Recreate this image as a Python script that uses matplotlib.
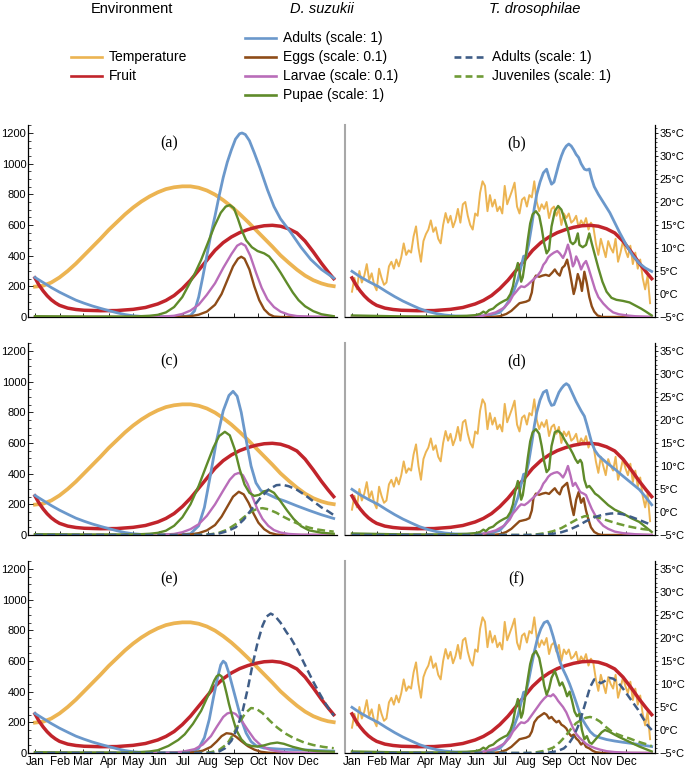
import numpy as np
import matplotlib.pyplot as plt
from matplotlib.lines import Line2D
from matplotlib.ticker import MultipleLocator

plt.rcParams['font.family'] = ['Liberation Sans', 'DejaVu Sans']

W, H = 685, 769

MONTHS = ['Jan', 'Feb', 'Mar', 'Apr', 'May', 'Jun', 'Jul', 'Aug', 'Sep', 'Oct', 'Nov', 'Dec']
MONTH_DAY = [0, 31, 59, 90, 120, 151, 181, 212, 243, 273, 304, 334]
POP_TICKS = [0, 200, 400, 600, 800, 1000, 1200]
TEMP_TICKS = [-5, 0, 5, 10, 15, 20, 25, 30, 35]

C_TEMP = '#ecb452'
C_FRUIT = '#c1242b'
C_ADULT = '#6b98cb'
C_EGG = '#8e4c18'
C_LARVA = '#b96db9'
C_PUPA = '#5f8b2a'
C_TADULT = '#3f5d87'
C_TJUV = '#6f9b36'

# seasonal temperature (deg C), smooth version used in the left column
temp_smooth = [(0, 1.6), (10, 1.8), (20, 2.5), (30, 3.6), (40, 5.0), (50, 6.6), (60, 8.4),
               (70, 10.2), (80, 12.0), (90, 13.9), (100, 15.6), (110, 17.3), (120, 18.8),
               (130, 20.1), (140, 21.2), (150, 22.1), (160, 22.8), (170, 23.2), (180, 23.4),
               (190, 23.4), (200, 23.1), (210, 22.5), (220, 21.6), (230, 20.4), (240, 19.0),
               (250, 17.4), (260, 15.7), (270, 13.9), (280, 12.1), (290, 10.3), (300, 8.4),
               (310, 6.8), (320, 5.3), (330, 4.0), (340, 3.0), (350, 2.3), (358, 1.9), (365, 1.7)]

# measured temperature (deg C), every 3 days, right column
temp_measured = [0.5, 3.5, 1.0, 5.0, 2.5, 4.0, 6.5, 3.0, 4.5, 2.0,
                 0.8, 5.5, 3.5, 2.0, 2.5, 6.0, 7.0, 5.5, 7.5, 6.0,
                 8.0, 11.0, 8.5, 9.5, 9.0, 12.5, 14.7, 10.0, 7.0, 11.5,
                 13.0, 14.0, 16.0, 13.5, 14.5, 12.0, 11.0, 15.0, 17.6, 15.5,
                 17.0, 14.5, 16.0, 18.5, 15.5, 19.5, 20.0, 17.0, 15.0, 14.0,
                 17.5, 17.0, 22.0, 24.5, 23.5, 18.0, 21.5, 19.0, 20.5, 18.0,
                 19.0, 17.5, 23.5, 19.5, 21.0, 22.5, 24.2, 19.0, 17.5, 20.5,
                 21.0, 19.0, 21.5, 21.0, 24.5, 20.0, 18.0, 19.5, 18.5, 20.0,
                 16.5, 18.5, 19.0, 17.0, 18.5, 15.0, 17.5, 16.5, 17.5, 15.5,
                 16.0, 17.0, 14.5, 16.0, 15.0, 16.5, 14.0, 15.5, 14.5, 11.0,
                 8.5, 12.0, 10.0, 8.0, 11.5, 10.0, 9.0, 12.0, 7.0, 9.0,
                 11.5, 9.5, 8.0, 10.5, 6.5, 9.0, 5.5, 7.5, 3.5, 1.0,
                 4.0, -2.0]

fruit = [(0, 255), (5, 208), (10, 170), (15, 138), (20, 112), (25, 92), (30, 76), (40, 58),
         (50, 49), (60, 44), (80, 41), (100, 42), (120, 50), (135, 62), (150, 85), (160, 108),
         (170, 140), (180, 185), (190, 240), (200, 305), (210, 370), (220, 435), (230, 485),
         (240, 522), (250, 550), (260, 570), (270, 585), (280, 595), (290, 598), (300, 592),
         (310, 575), (320, 548), (330, 495), (340, 425), (350, 350), (358, 295), (365, 250)]

# ---- left column (a), (c), (e)
ADULT_SPRING_LEFT = [(0, 258), (10, 225), (20, 192), (30, 162), (41, 133), (50, 110), (60, 90),
                     (70, 72), (81, 55), (90, 42), (100, 28), (110, 16), (120, 8), (130, 4),
                     (150, 2), (170, 2), (185, 5)]

adults_a = ADULT_SPRING_LEFT + [(190, 10), (195, 40), (200, 130), (205, 260), (210, 400), (215, 540),
                                (220, 660), (225, 790), (230, 910), (235, 1010), (240, 1090),
                                (245, 1160), (250, 1195), (253, 1200), (257, 1190), (262, 1150),
                                (268, 1070), (275, 970), (284, 830), (292, 720), (300, 640),
                                (313, 548), (325, 455), (337, 375), (350, 310), (365, 254)]
pupae_a = [(0, 5), (60, 3), (120, 3), (140, 8), (150, 14), (160, 30), (170, 65), (180, 130),
           (187, 200), (195, 280), (203, 372), (211, 480), (219, 589), (227, 680), (233, 720),
           (238, 730), (243, 710), (248, 640), (253, 560), (258, 500), (265, 455), (272, 430),
           (280, 415), (286, 395), (292, 355), (300, 290), (308, 220), (315, 160), (322, 110),
           (330, 70), (340, 38), (350, 18), (365, 5)]
larvae_a = [(0, 0), (150, 0), (170, 8), (180, 20), (190, 42), (200, 80), (210, 145), (220, 220),
            (230, 320), (240, 410), (247, 465), (252, 480), (257, 465), (263, 400), (270, 290),
            (277, 190), (284, 115), (292, 65), (300, 35), (310, 15), (320, 6), (340, 2), (365, 0)]
eggs_a = [(0, 0), (170, 0), (190, 5), (200, 15), (210, 35), (220, 80), (228, 150), (235, 240),
          (242, 330), (248, 380), (252, 393), (256, 380), (262, 310), (268, 200), (274, 110),
          (280, 50), (286, 18), (292, 3), (300, 0), (365, 0)]

adults_c = ADULT_SPRING_LEFT + [(190, 8), (200, 60), (207, 180), (214, 380), (222, 620), (230, 810),
                                (237, 910), (242, 937), (247, 905), (252, 800), (258, 620),
                                (264, 450), (270, 340), (276, 290), (285, 265), (295, 240),
                                (305, 222), (320, 190), (335, 160), (350, 132), (365, 108)]
pupae_c = [(0, 5), (60, 3), (120, 3), (140, 8), (150, 14), (160, 28), (170, 60), (180, 115),
           (190, 200), (200, 320), (210, 460), (218, 570), (225, 645), (232, 673), (238, 650),
           (244, 560), (250, 430), (256, 330), (262, 275), (268, 255), (274, 262), (280, 285),
           (286, 293), (292, 275), (300, 220), (308, 160), (316, 105), (325, 58), (335, 30),
           (350, 15), (365, 8)]
larvae_c = [(0, 0), (150, 0), (170, 7), (180, 18), (190, 38), (200, 70), (210, 125), (220, 200),
            (230, 290), (238, 360), (244, 395), (249, 405), (254, 390), (260, 330), (266, 245),
            (272, 165), (278, 105), (285, 60), (292, 32), (300, 16), (310, 7), (325, 2), (365, 0)]
eggs_c = [(0, 0), (170, 0), (190, 4), (200, 12), (210, 30), (220, 65), (228, 120), (235, 185),
          (242, 250), (249, 282), (255, 265), (261, 210), (267, 140), (273, 80), (280, 38),
          (287, 14), (295, 3), (302, 0), (365, 0)]
tadults_c = [(0, 0), (200, 0), (215, 3), (225, 10), (235, 25), (245, 50), (255, 100), (265, 170),
             (275, 240), (285, 295), (295, 325), (302, 328), (310, 318), (320, 295), (330, 260),
             (340, 220), (350, 180), (358, 155), (365, 130)]
tjuv_c = [(0, 0), (200, 0), (215, 5), (225, 15), (235, 35), (245, 70), (255, 115), (265, 155),
          (272, 172), (278, 175), (285, 168), (295, 145), (305, 115), (315, 88), (325, 65),
          (335, 48), (345, 36), (355, 28), (365, 22)]

adults_e = ADULT_SPRING_LEFT + [(190, 5), (200, 30), (207, 100), (213, 220), (218, 360), (223, 490),
                                (227, 575), (230, 599), (233, 585), (237, 520), (242, 420),
                                (247, 320), (252, 220), (258, 130), (264, 75), (270, 48),
                                (280, 32), (300, 25), (330, 20), (365, 12)]
pupae_e = [(0, 5), (60, 3), (120, 3), (140, 10), (150, 18), (163, 46), (175, 85), (183, 122),
           (193, 190), (203, 275), (212, 380), (219, 472), (222, 500), (225, 511), (228, 500),
           (231, 455), (234, 390), (237, 320), (241, 240), (246, 150), (252, 90), (258, 57),
           (265, 45), (272, 42), (280, 50), (288, 62), (296, 68), (304, 60), (315, 40), (330, 20),
           (345, 12), (365, 8)]
larvae_e = [(0, 0), (160, 0), (180, 8), (195, 25), (205, 55), (215, 110), (222, 170), (230, 235),
            (235, 258), (240, 265), (245, 255), (252, 215), (260, 150), (268, 90), (276, 50),
            (285, 25), (295, 12), (310, 4), (330, 1), (365, 0)]
eggs_e = [(0, 0), (180, 0), (195, 5), (205, 15), (215, 40), (222, 75), (228, 110), (234, 129),
          (240, 125), (246, 105), (252, 78), (260, 45), (268, 22), (276, 8), (285, 2), (295, 0),
          (365, 0)]
tadults_e = [(0, 0), (220, 0), (225, 10), (232, 30), (240, 80), (247, 160), (254, 280), (260, 420),
             (266, 580), (272, 720), (278, 830), (283, 890), (288, 909), (293, 895), (300, 850),
             (307, 790), (313, 745), (320, 680), (327, 605), (333, 540), (340, 465), (347, 395),
             (354, 330), (360, 280), (365, 245)]
tjuv_e = [(0, 0), (200, 0), (215, 5), (225, 20), (235, 60), (243, 130), (250, 200), (257, 260),
          (264, 293), (270, 290), (278, 260), (287, 210), (296, 166), (305, 130), (315, 100),
          (329, 68), (340, 52), (352, 40), (365, 31)]

# ---- right column (b), (d), (f)
ADULT_SPRING_RIGHT = [(0, 298), (10, 262), (20, 232), (32, 199), (42, 165), (52, 133), (62, 104),
                      (72, 79), (82, 55), (93, 35), (103, 22), (113, 13), (125, 7), (140, 4),
                      (155, 5), (165, 10), (172, 18), (180, 30), (186, 65), (192, 112), (197, 170),
                      (202, 243), (206, 330), (209, 396), (212, 400), (215, 470)]
PUPA_SPRING_RIGHT = [(0, 10), (30, 7), (60, 4), (90, 3), (120, 4), (140, 8), (150, 12), (156, 20),
                     (160, 35), (163, 25), (167, 45), (172, 55), (176, 75), (180, 90), (185, 105),
                     (189, 115), (193, 150), (196, 200), (199, 290), (202, 352), (204, 300),
                     (206, 230), (208, 260), (211, 370)]
LARVA_SPRING_RIGHT = [(0, 0), (140, 0), (155, 3), (165, 15), (175, 30), (185, 60), (192, 100),
                      (196, 140), (200, 165), (203, 185), (206, 200), (210, 195), (214, 210)]
EGG_SPRING_RIGHT = [(0, 0), (170, 0), (180, 5), (188, 20), (194, 40), (198, 60), (204, 90),
                    (208, 95), (212, 100), (216, 110)]

adults_b = ADULT_SPRING_RIGHT + [(219, 600), (222, 710), (225, 800), (229, 880), (233, 940),
                                 (237, 964), (240, 910), (243, 866), (246, 880), (249, 940),
                                 (252, 1000), (255, 1050), (258, 1090), (261, 1115), (264, 1128),
                                 (267, 1115), (270, 1090), (273, 1060), (276, 1040), (279, 1000),
                                 (283, 964), (286, 958), (289, 965), (292, 900), (295, 850),
                                 (300, 800), (307, 740), (314, 680), (320, 615), (326, 550),
                                 (334, 470), (342, 400), (350, 350), (357, 320), (365, 297)]
pupae_b = PUPA_SPRING_RIGHT + [(214, 500), (217, 610), (220, 670), (224, 690), (228, 660), (231, 580),
                               (234, 480), (237, 415), (240, 440), (243, 590), (247, 690), (251, 724),
                               (255, 700), (259, 636), (263, 565), (266, 490), (269, 475), (272, 490),
                               (275, 545), (277, 470), (281, 455), (285, 470), (289, 545), (292, 480),
                               (296, 400), (300, 320), (305, 230), (310, 165), (316, 125), (322, 112),
                               (330, 105), (338, 95), (345, 75), (352, 55), (358, 35), (365, 10)]
larvae_b = LARVA_SPRING_RIGHT + [(218, 230), (222, 250), (226, 270), (230, 300), (233, 340), (236, 360),
                                 (239, 390), (242, 405), (246, 420), (250, 430), (253, 415), (257, 385),
                                 (260, 420), (263, 472), (266, 410), (269, 330), (271, 350), (273, 395),
                                 (276, 360), (279, 310), (282, 345), (285, 365), (288, 320), (292, 250),
                                 (296, 180), (300, 130), (306, 88), (312, 55), (318, 30), (325, 18),
                                 (335, 10), (345, 5), (365, 0)]
eggs_b = EGG_SPRING_RIGHT + [(219, 160), (221, 240), (224, 270), (228, 262), (232, 270), (236, 275),
                             (240, 268), (244, 290), (247, 310), (250, 285), (253, 270), (256, 320),
                             (259, 335), (262, 374), (265, 300), (267, 240), (270, 150), (272, 190),
                             (275, 280), (278, 230), (280, 170), (283, 295), (286, 220), (289, 130),
                             (292, 70), (295, 35), (299, 10), (305, 0), (365, 0)]

adults_d = ADULT_SPRING_RIGHT + [(219, 600), (222, 710), (225, 800), (229, 880), (233, 930),
                                 (237, 943), (240, 880), (243, 845), (246, 850), (249, 890),
                                 (252, 930), (255, 955), (258, 975), (261, 987), (264, 975),
                                 (267, 940), (270, 905), (273, 870), (276, 840), (279, 810),
                                 (283, 775), (286, 720), (289, 660), (292, 600), (296, 550),
                                 (300, 520), (305, 495), (310, 472), (320, 430), (330, 384),
                                 (340, 340), (350, 296), (358, 245), (365, 197)]
pupae_d = PUPA_SPRING_RIGHT + [(214, 500), (217, 610), (220, 670), (224, 690), (228, 660), (231, 580),
                               (234, 480), (237, 410), (240, 430), (243, 580), (247, 670), (251, 680),
                               (255, 660), (259, 620), (263, 585), (266, 560), (269, 530), (272, 495),
                               (275, 470), (278, 490), (280, 470), (283, 360), (286, 310), (289, 320),
                               (292, 300), (296, 270), (300, 255), (306, 225), (312, 195), (320, 165),
                               (330, 140), (340, 110), (350, 85), (358, 50), (365, 20)]
larvae_d = LARVA_SPRING_RIGHT + [(218, 230), (222, 250), (226, 270), (230, 300), (233, 335), (236, 355),
                                 (239, 380), (242, 395), (246, 405), (250, 410), (253, 400), (257, 375),
                                 (260, 405), (263, 450), (266, 390), (269, 320), (272, 340), (275, 310),
                                 (278, 280), (282, 270), (285, 260), (288, 220), (292, 170), (296, 130),
                                 (300, 95), (306, 60), (312, 40), (320, 22), (330, 12), (345, 5),
                                 (365, 0)]
eggs_d = EGG_SPRING_RIGHT + [(219, 160), (221, 240), (224, 270), (228, 262), (232, 270), (236, 275),
                             (240, 268), (244, 290), (247, 305), (250, 280), (253, 265), (256, 310),
                             (259, 325), (262, 340), (265, 260), (267, 200), (270, 130), (273, 230),
                             (276, 280), (279, 210), (282, 240), (285, 160), (288, 100), (291, 50),
                             (295, 20), (300, 5), (305, 0), (365, 0)]
tadults_d = [(0, 0), (220, 0), (235, 3), (245, 8), (255, 18), (265, 35), (275, 60), (285, 90),
             (295, 115), (305, 132), (315, 140), (322, 142), (330, 135), (340, 118), (350, 98),
             (358, 80), (365, 66)]
tjuv_d = [(0, 0), (215, 0), (225, 4), (235, 12), (245, 25), (255, 45), (265, 75), (275, 105),
          (283, 122), (290, 125), (297, 118), (305, 105), (315, 88), (325, 72), (335, 58),
          (345, 47), (355, 38), (365, 32)]

adults_f = ADULT_SPRING_RIGHT + [(219, 580), (222, 660), (226, 750), (230, 810), (234, 850),
                                 (238, 860), (241, 830), (245, 760), (249, 680), (253, 600),
                                 (257, 545), (261, 500), (265, 450), (269, 392), (273, 330),
                                 (277, 265), (281, 215), (285, 180), (290, 140), (295, 115),
                                 (302, 100), (310, 88), (320, 78), (330, 70), (340, 63),
                                 (350, 55), (358, 48), (365, 42)]
pupae_f = PUPA_SPRING_RIGHT + [(214, 480), (217, 580), (220, 640), (224, 665), (228, 620), (231, 540),
                               (234, 440), (237, 380), (240, 420), (243, 490), (247, 535), (250, 490),
                               (253, 440), (256, 460), (259, 420), (262, 370), (265, 400), (268, 340),
                               (271, 270), (274, 240), (277, 255), (280, 150), (283, 90), (286, 110),
                               (289, 70), (292, 60), (296, 85), (300, 110), (304, 135), (308, 150),
                               (313, 140), (318, 125), (325, 105), (333, 85), (342, 62), (350, 42),
                               (358, 25), (365, 10)]
larvae_f = LARVA_SPRING_RIGHT + [(218, 240), (222, 270), (226, 300), (230, 330), (234, 355), (238, 375),
                                 (242, 370), (245, 383), (248, 365), (251, 340), (254, 320), (257, 300),
                                 (261, 265), (265, 215), (269, 165), (273, 125), (277, 100), (281, 80),
                                 (285, 60), (290, 45), (296, 32), (302, 22), (310, 12), (320, 6),
                                 (335, 2), (365, 0)]
eggs_f = EGG_SPRING_RIGHT + [(219, 140), (222, 200), (226, 230), (230, 245), (234, 260), (237, 250),
                             (240, 225), (243, 235), (246, 215), (249, 200), (252, 210), (255, 185),
                             (258, 175), (261, 160), (264, 130), (267, 110), (270, 120), (273, 95),
                             (276, 80), (279, 55), (282, 70), (285, 40), (289, 30), (293, 15),
                             (297, 5), (305, 0), (365, 0)]
tadults_f = [(0, 0), (230, 0), (240, 3), (250, 12), (258, 30), (264, 60), (270, 110), (275, 170),
             (280, 250), (285, 340), (290, 430), (295, 480), (299, 470), (303, 455), (308, 470),
             (313, 490), (318, 485), (324, 460), (330, 420), (336, 375), (342, 330), (348, 285),
             (354, 230), (360, 180), (365, 150)]
tjuv_f = [(0, 0), (215, 0), (225, 5), (235, 15), (245, 35), (253, 70), (260, 110), (267, 160),
          (273, 195), (279, 215), (285, 230), (290, 235), (295, 228), (302, 205), (308, 175),
          (315, 145), (322, 125), (330, 108), (338, 95), (345, 80), (352, 68), (358, 58), (365, 45)]


def c_to_pop(t):
    # temperature axis: -5 degC sits at 0, 1 degC = 30 population units
    return 30 * (np.asarray(t) + 5)


def pop_to_c(y):
    return np.asarray(y) / 30 - 5


def xy(series):
    arr = np.array(series, dtype=float)
    return arr[:, 0], arr[:, 1]


LW_POP = 1.7
DASH = (3.2, 1.7)


def draw_panel(ax, label, right, adults, eggs, larvae, pupae, tadults=None, tjuv=None, bottom=False):
    if right:
        td = np.arange(len(temp_measured)) * 3
        ax.plot(td, c_to_pop(temp_measured), color=C_TEMP, lw=1.4, zorder=1)
    else:
        d, t = xy(temp_smooth)
        ax.plot(d, c_to_pop(t), color=C_TEMP, lw=2.7, zorder=1)
    d, v = xy(fruit)
    ax.plot(d, v, color=C_FRUIT, lw=2.5, zorder=2)
    for s, c in [(adults, C_ADULT), (eggs, C_EGG), (larvae, C_LARVA), (pupae, C_PUPA)]:
        d, v = xy(s)
        lw = 2.0 if c == C_ADULT else LW_POP
        ax.plot(d, v, color=c, lw=lw, zorder=3)
    if tadults is not None:
        for s, c in [(tjuv, C_TJUV), (tadults, C_TADULT)]:
            d, v = xy(s)
            ax.plot(d, v, color=c, lw=1.8, ls=(0, DASH), zorder=4)

    ax.set_xlim(-8.5, 369)
    ax.set_ylim(0, 1252)
    ax.spines['top'].set_visible(False)
    ax.spines['right'].set_visible(False)
    ax.spines['bottom'].set_linewidth(0.9)
    ax.set_xticks(MONTH_DAY)
    ax.tick_params(axis='x', direction='in', length=3, width=0.6, pad=2, labelsize=8.4)
    if bottom:
        ax.set_xticklabels(MONTHS)
    else:
        ax.set_xticklabels([])

    if right:
        ax.set_yticks([])
        ax.spines['left'].set_color('#a8a8a8')
        ax.spines['left'].set_linewidth(1.5)
        sec = ax.secondary_yaxis('right', functions=(pop_to_c, c_to_pop))
        sec.set_yticks(TEMP_TICKS, labels=[f'{t}°C'.replace('-', '\u2212') for t in TEMP_TICKS])
        sec.yaxis.set_minor_locator(MultipleLocator(1))
        sec.tick_params(which='major', direction='out', length=2.5, width=0.6, pad=1, labelsize=8)
        sec.tick_params(which='minor', direction='out', length=1.5, width=0.5)
        sec.spines['right'].set_linewidth(0.9)
        lx = 0.554
    else:
        ax.set_yticks(POP_TICKS)
        ax.yaxis.set_minor_locator(MultipleLocator(50))
        ax.tick_params(axis='y', which='major', direction='in', length=3.5, width=0.6, pad=1.2, labelsize=8)
        ax.tick_params(axis='y', which='minor', direction='in', length=1.8, width=0.5)
        ax.spines['left'].set_linewidth(0.9)
        lx = 0.457
    ax.text(lx, 0.905, label, transform=ax.transAxes, ha='center', va='center',
            fontsize=11.5, family='Liberation Serif')


fig = plt.figure(figsize=(W / 100, H / 100), dpi=100)

rows_top = [125, 343, 561]
panel_h = 192
cols = [(28, 309), (345, 310)]

panels = [
    ('(a)', False, adults_a, eggs_a, larvae_a, pupae_a, None, None),
    ('(b)', True, adults_b, eggs_b, larvae_b, pupae_b, None, None),
    ('(c)', False, adults_c, eggs_c, larvae_c, pupae_c, tadults_c, tjuv_c),
    ('(d)', True, adults_d, eggs_d, larvae_d, pupae_d, tadults_d, tjuv_d),
    ('(e)', False, adults_e, eggs_e, larvae_e, pupae_e, tadults_e, tjuv_e),
    ('(f)', True, adults_f, eggs_f, larvae_f, pupae_f, tadults_f, tjuv_f),
]

for i, p in enumerate(panels):
    r, c = divmod(i, 2)
    x0, w = cols[c]
    top = rows_top[r]
    ax = fig.add_axes([x0 / W, 1 - (top + panel_h) / H, w / W, panel_h / H])
    ax.patch.set_alpha(0)
    draw_panel(ax, *p, bottom=(r == 2))

# ---- legend block along the top
def header(xc, text, italic=False):
    fig.text(xc / W, 1 - 9 / H, text, ha='center', va='center', fontsize=10.5,
             style='italic' if italic else 'normal')


def key(x, y, color, text, dashed=False):
    ls = (0, (2.6, 1.6)) if dashed else '-'
    fig.add_artist(Line2D([x / W, (x + 31) / W], [1 - y / H, 1 - y / H], transform=fig.transFigure,
                          color=color, lw=1.9, ls=ls))
    fig.text((x + 38) / W, 1 - y / H, text, ha='left', va='center', fontsize=10)


header(132, 'Environment')
header(322, 'D. suzukii', italic=True)
header(535, 'T. drosophilae', italic=True)

key(71, 57, C_TEMP, 'Temperature')
key(71, 76, C_FRUIT, 'Fruit')
key(245, 38, C_ADULT, 'Adults (scale: 1)')
key(245, 57, C_EGG, 'Eggs (scale: 0.1)')
key(245, 76, C_LARVA, 'Larvae (scale: 0.1)')
key(245, 95, C_PUPA, 'Pupae (scale: 1)')
key(454, 57, C_TADULT, 'Adults (scale: 1)', dashed=True)
key(454, 76, C_TJUV, 'Juveniles (scale: 1)', dashed=True)

fig.savefig('out.png', dpi=100)
